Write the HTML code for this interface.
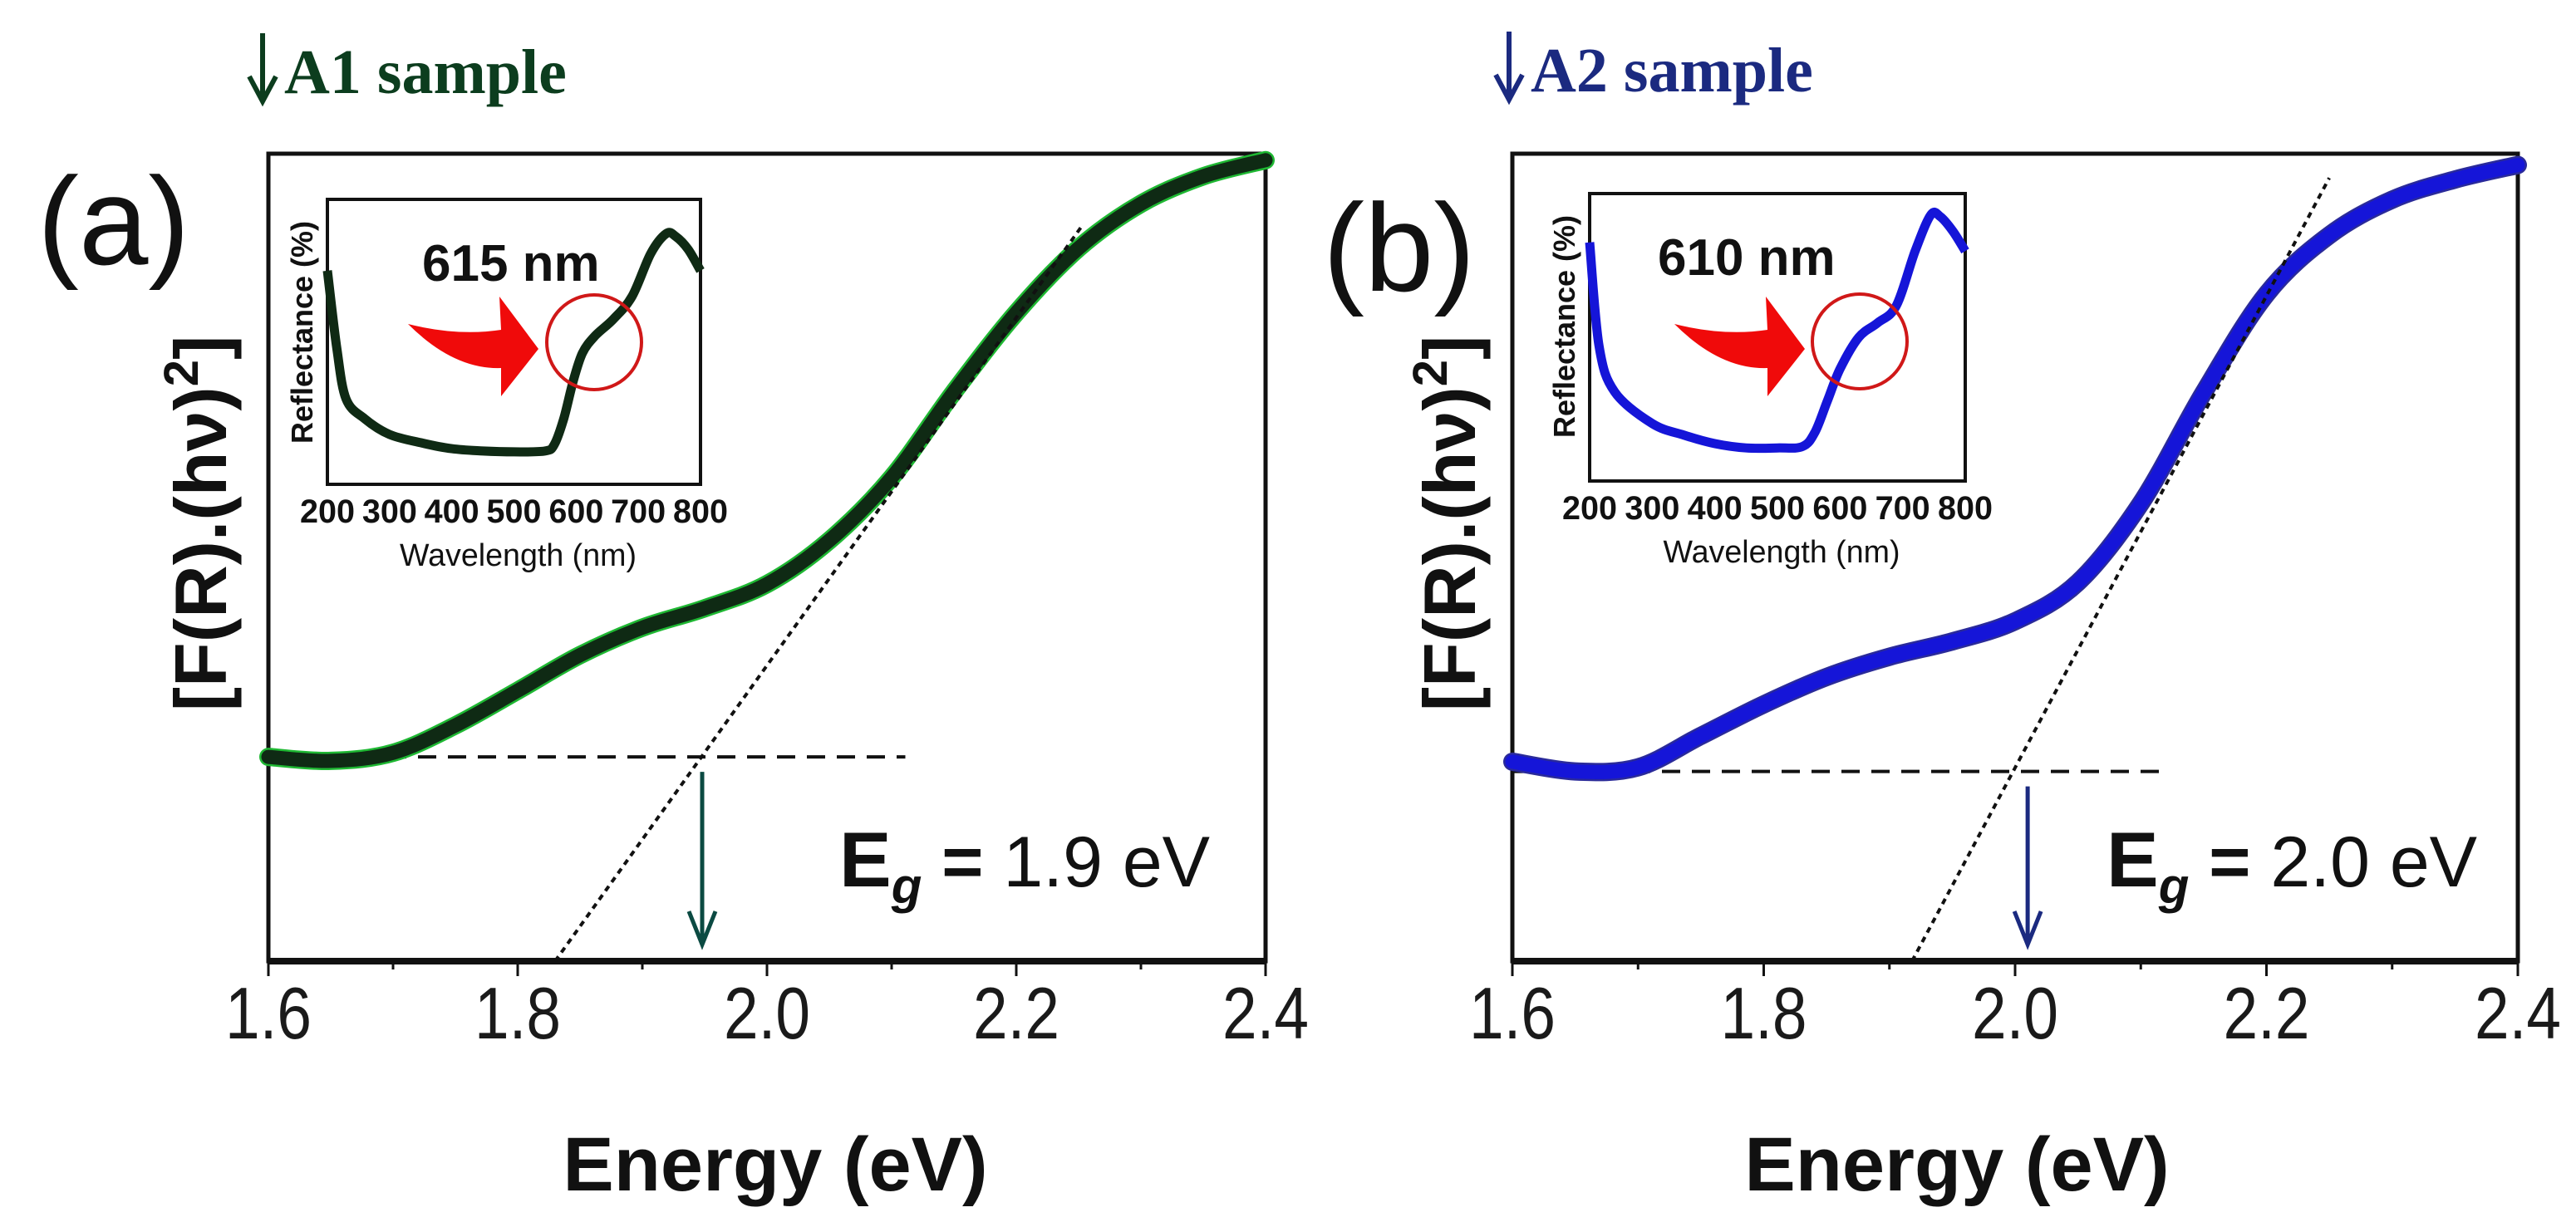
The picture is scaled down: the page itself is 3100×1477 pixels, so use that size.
<!DOCTYPE html>
<html><head><meta charset="utf-8">
<style>
html,body{margin:0;padding:0;background:#fff;}
svg{display:block;}
text{font-family:"Liberation Sans",sans-serif;}
</style></head>
<body>
<svg id="fig" width="3100" height="1477" viewBox="0 0 3100 1477" xmlns="http://www.w3.org/2000/svg">
</svg>
<script>
// ---------- data ----------
const energyTicks = [1.6, 1.8, 2.0, 2.2, 2.4];
const energyTickLabels = ["1.6", "1.8", "2.0", "2.2", "2.4"];
const wavelengthTicks = [200, 300, 400, 500, 600, 700, 800];

const energyA = [1.6, 1.65, 1.7, 1.75, 1.8, 1.85, 1.9, 1.95, 2.0, 2.05, 2.1, 2.15, 2.2, 2.25, 2.3, 2.35, 2.4];
const signalA = [25.3, 24.8, 25.8, 29.2, 33.5, 37.9, 41.3, 43.7, 46.7, 52.1, 59.9, 70.5, 80.3, 88.3, 93.8, 97.2, 99.2];
const energyB = [1.6, 1.65, 1.7, 1.75, 1.8, 1.85, 1.9, 1.95, 2.0, 2.05, 2.1, 2.15, 2.2, 2.25, 2.3, 2.35, 2.4];
const signalB = [24.7, 23.5, 24.0, 27.9, 31.8, 35.2, 37.7, 39.6, 42.1, 46.9, 56.7, 70.4, 82.6, 89.9, 94.3, 96.8, 98.6];

const wavelengthA = [200, 215, 230, 260, 300, 350, 400, 450, 500, 550, 565, 580, 595, 610, 630, 660, 690, 720, 745, 760, 780, 800];
const reflectA = [75, 48, 30, 23, 17.5, 14.6, 12.5, 11.7, 11.4, 11.7, 14, 23, 36, 46, 52, 58, 66, 81, 88, 87, 82.5, 75];
const wavelengthB = [200, 215, 240, 300, 350, 400, 450, 500, 540, 560, 580, 600, 630, 660, 690, 720, 745, 760, 780, 800];
const reflectB = [83, 47, 31, 20, 16, 13, 11.5, 11.5, 12, 17, 28, 39, 50, 55, 61, 80, 92.6, 92, 87, 80];

const baselineA = [25.3, 2.111];
const tangentA = [[1.83, 0], [2.252, 90.9]];
const egA = 1.948;
const baselineB = [23.5, 2.117];
const tangentB = [[1.918, 0], [2.250, 97]];
const egB = 2.01;

// ---------- helpers ----------
const NS = "http://www.w3.org/2000/svg";
const svg = document.getElementById("fig");
function mk(tag, attrs, parent, txt) {
  const e = document.createElementNS(NS, tag);
  for (const k in attrs) e.setAttribute(k, attrs[k]);
  if (txt !== undefined) e.textContent = txt;
  (parent || svg).appendChild(e);
  return e;
}
function smoothPath(pts) {
  let d = "M" + pts[0][0].toFixed(1) + "," + pts[0][1].toFixed(1);
  for (let i = 0; i < pts.length - 1; i++) {
    const p0 = pts[Math.max(i - 1, 0)], p1 = pts[i], p2 = pts[i + 1], p3 = pts[Math.min(i + 2, pts.length - 1)];
    const c1x = p1[0] + (p2[0] - p0[0]) / 6, c1y = p1[1] + (p2[1] - p0[1]) / 6;
    const c2x = p2[0] - (p3[0] - p1[0]) / 6, c2y = p2[1] - (p3[1] - p1[1]) / 6;
    d += " C" + c1x.toFixed(1) + "," + c1y.toFixed(1) + " " + c2x.toFixed(1) + "," + c2y.toFixed(1) + " " + p2[0].toFixed(1) + "," + p2[1].toFixed(1);
  }
  return d;
}

function panel(cfg) {
  const g = mk("g", {});
  
  
  const X = e => cfg.x0 + (e - 1.6) / 0.8 * (cfg.x1 - cfg.x0);
  const Y = v => cfg.y1 - v / 100 * (cfg.y1 - cfg.y0);

  // sample header
  const ha = mk("path", {d: "M" + (cfg.hx + 20) + "," + (cfg.hy - 72) + " L" + (cfg.hx + 20) + "," + (cfg.hy + 8) +
    " M" + (cfg.hx + 4) + "," + (cfg.hy - 20) + " L" + (cfg.hx + 20) + "," + (cfg.hy + 10) + " L" + (cfg.hx + 36) + "," + (cfg.hy - 20),
    fill: "none", stroke: cfg.hcolor, "stroke-width": 6}, g);
  
  
  const hd = mk("text", {x: cfg.hx + 46, y: cfg.hy, fill: cfg.hcolor, "font-size": 76, "font-weight": "bold", style: 'font-family:"Liberation Serif",serif'}, g, cfg.header);
  
  
  // panel letter
  const pl = mk("text", {x: cfg.lx, y: cfg.ly, fill: "#111", "font-size": 150}, g, cfg.letter);
  
  

  // y-axis title
  const yt = mk("text", {x: 0, y: 0, fill: "#111", "font-size": 88, "font-weight": "bold", "text-anchor": "middle", transform: "translate(" + cfg.ytx + ",630) rotate(-90)"}, g);
  
  
  mk("tspan", {}, yt, "[F(R).(hν)");
  mk("tspan", {dy: -34, "font-size": 58}, yt, "2");
  mk("tspan", {dy: 34}, yt, "]");

  // axes frame
  const fr = mk("rect", {x: cfg.x0, y: cfg.y0, width: cfg.x1 - cfg.x0, height: cfg.y1 - cfg.y0, fill: "none", stroke: "#111", "stroke-width": 5}, g);
  
  
  mk("line", {x1: cfg.x0, y1: cfg.y1, x2: cfg.x1, y2: cfg.y1, stroke: "#111", "stroke-width": 8}, g);

  // ticks
  for (let e = 1.6; e <= 2.401; e += 0.1) {
    const major = Math.abs(Math.round(e * 10) % 2) === 0;
    const t = mk("line", {x1: X(e), y1: cfg.y1, x2: X(e), y2: cfg.y1 + (major ? 18 : 10), stroke: "#111", "stroke-width": 3}, g);
    
    
  }
  energyTicks.forEach((e, i) => {
    const t = mk("text", {x: X(e), y: 1250, "text-anchor": "middle", fill: "#1a1a1a", "font-size": 88, textLength: 104, lengthAdjust: "spacingAndGlyphs"}, g, energyTickLabels[i]);
    
    
  });
  const xt = mk("text", {x: cfg.xtx, y: 1433, "text-anchor": "middle", fill: "#111", "font-size": 92, "font-weight": "bold"}, g, "Energy (eV)");
  
  

  // baseline dashed
  const bl = mk("line", {x1: cfg.x0, y1: Y(cfg.base[0]), x2: X(cfg.base[1]), y2: Y(cfg.base[0]), stroke: "#111", "stroke-width": 4, "stroke-dasharray": "22 14"}, g);
  
  

  // main curve
  const pts = cfg.ex.map((e, i) => [X(e), Y(cfg.ev[i])]);
  const d = smoothPath(pts);
  const cOuter = mk("path", {d: d, fill: "none", stroke: cfg.edge, "stroke-width": 22, "stroke-linecap": "round"}, g);
  
  
  const c = mk("path", {d: d, fill: "none", stroke: cfg.color, "stroke-width": 17, "stroke-linecap": "round"}, g);
  
  

  // tangent dotted
  const tg = mk("line", {x1: X(cfg.tan[0][0]), y1: Y(cfg.tan[0][1]), x2: X(cfg.tan[1][0]), y2: Y(cfg.tan[1][1]), stroke: "#111", "stroke-width": 4, "stroke-dasharray": "7 6"}, g);
  
  

  // Eg arrow
  const axx = X(cfg.eg), tipY = cfg.y1 - 20;
  const ar = mk("path", {d: "M" + axx + "," + (Y(cfg.base[0]) + 18) + " L" + axx + "," + tipY +
    " M" + (axx - 16) + "," + (tipY - 40) + " L" + axx + "," + tipY + " L" + (axx + 16) + "," + (tipY - 40),
    fill: "none", stroke: cfg.arrow, "stroke-width": 5}, g);
  
  

  // Eg label
  const el = mk("text", {x: cfg.egx, y: 1067, fill: "#111", "font-size": 86}, g);
  
  
  mk("tspan", {"font-weight": "bold", "font-size": 94}, el, "E");
  mk("tspan", {"font-weight": "bold", "font-style": "italic", "font-size": 60, dy: 20}, el, "g");
  mk("tspan", {"font-weight": "bold", dy: -20}, el, " = ");
  mk("tspan", {}, el, cfg.egText);

  // inset
  const ig = mk("g", {}, g);
  
  
  const ix = w => cfg.ix0 + (w - 200) / 600 * (cfg.ix1 - cfg.ix0);
  const iy = v => cfg.iy1 - v / 100 * (cfg.iy1 - cfg.iy0);
  mk("rect", {x: cfg.ix0, y: cfg.iy0, width: cfg.ix1 - cfg.ix0, height: cfg.iy1 - cfg.iy0, fill: "#fff", stroke: "#111", "stroke-width": 4}, ig);
  wavelengthTicks.forEach(w => {
    const t = mk("text", {x: ix(w), y: cfg.iy1 + 46, "text-anchor": "middle", fill: "#111", "font-size": 40, "font-weight": "bold", textLength: 66, lengthAdjust: "spacingAndGlyphs"}, ig, String(w));
    
    
  });
  const wl = mk("text", {x: (cfg.ix0 + cfg.ix1) / 2 + 5, y: cfg.iy1 + 98, "text-anchor": "middle", fill: "#111", "font-size": 38, textLength: 285, lengthAdjust: "spacingAndGlyphs"}, ig, "Wavelength (nm)");
  
  
  const rl = mk("text", {x: 0, y: 0, "text-anchor": "middle", fill: "#111", "font-size": 36, "font-weight": "bold", transform: "translate(" + (cfg.ix0 - 18) + "," + (cfg.iy0 + 160) + ") rotate(-90)"}, ig, "Reflectance (%)");
  
  
  const ipts = cfg.wl.map((w, i) => [ix(w), iy(cfg.rf[i])]);
  const ic = mk("path", {d: smoothPath(ipts), fill: "none", stroke: cfg.color, "stroke-width": 11, "stroke-linejoin": "round"}, ig);
  
  
  const nm = mk("text", {x: cfg.nmx, y: cfg.iy0 + 98, fill: "#111", "font-size": 62, "font-weight": "bold"}, ig, cfg.nm);
  
  
  // red arrow
  const ax = cfg.ax, ay = cfg.ay;
  const ra = mk("path", {d: "M" + ax + "," + (ay - 5) + " Q" + (ax + 60) + "," + (ay + 10) + " " + (ax + 112) + "," + (ay + 2) +
    " L" + (ax + 110) + "," + (ay - 38) + " L" + (ax + 157) + "," + (ay + 25) + " L" + (ax + 112) + "," + (ay + 82) +
    " L" + (ax + 112) + "," + (ay + 48) + " Q" + (ax + 55) + "," + (ay + 50) + " " + ax + "," + (ay - 5) + " Z", fill: "#f00a0a"}, ig);
  
  
  const cc = mk("circle", {cx: cfg.cx, cy: cfg.cy, r: 57, fill: "none", stroke: "#d01818", "stroke-width": 4}, ig);
  
  
}

panel({id: "a", letter: "(a)", header: "A1 sample", hcolor: "#0c3d1e", hx: 296, hy: 112, lx: 45, ly: 318,
  ytx: 272, x0: 323, x1: 1523, y0: 185, y1: 1157, xtx: 933,
  ex: energyA, ev: signalA, color: "#0f2a14", edge: "#1fb833", arrow: "#0b4a42",
  base: baselineA, tan: tangentA, eg: egA, egx: 1010, egText: "1.9 eV",
  ix0: 394, ix1: 843, iy0: 240, iy1: 583, wl: wavelengthA, rf: reflectA, nm: "615 nm", nmx: 508,
  ax: 491, ay: 395, cx: 715, cy: 412});

panel({id: "b", letter: "(b)", header: "A2 sample", hcolor: "#1b2a80", hx: 1796, hy: 110, lx: 1592, ly: 350,
  ytx: 1775, x0: 1820, x1: 3030, y0: 185, y1: 1157, xtx: 2355,
  ex: energyB, ev: signalB, color: "#1515d8", edge: "#2a2a9a", arrow: "#1b2a80",
  base: baselineB, tan: tangentB, eg: egB, egx: 2535, egText: "2.0 eV",
  ix0: 1913, ix1: 2365, iy0: 233, iy1: 579, wl: wavelengthB, rf: reflectB, nm: "610 nm", nmx: 1995,
  ax: 2015, ay: 395, cx: 2238, cy: 411});
</script>
</body></html>
